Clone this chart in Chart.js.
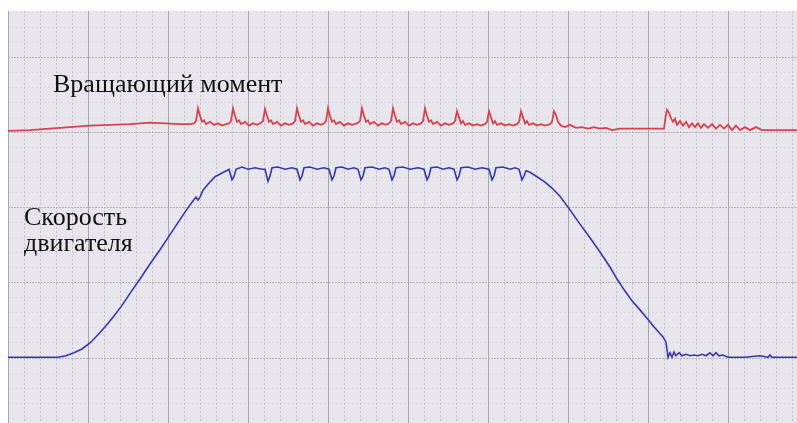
<!DOCTYPE html>
<html>
<head>
<meta charset="utf-8">
<script src="https://cdn.jsdelivr.net/npm/chart.js@4"></script>
<style>
  html, body { margin: 0; padding: 0; background: #fff; }
  #wrap { width: 797px; height: 423px; }
</style>
</head>
<body>
<div id="wrap"><canvas id="traceChart" width="797" height="423"></canvas></div>
<script>
// Drive trace: time in ms (200 ms per division), signals in divisions
const speedMs = [
  0, 125, 145, 165, 185, 205, 225, 245, 265, 285, 305, 330, 355, 380, 405, 430, 447.5, 460, 470, 475, 480, 487.5, 500, 517.5, 535, 550,
  552.5, 560, 565, 570, 585, 600, 617.5, 635,
  642.5, 650, 655, 660, 675, 692.5, 710,
  722.5, 730, 735, 740, 755, 772.5, 790,
  802.5, 810, 815, 820, 835, 850, 865,
  875, 882.5, 887.5, 892.5, 910, 927.5, 942.5,
  952.5, 960, 965, 970, 987.5, 1005, 1025,
  1040, 1047.5, 1052.5, 1057.5, 1072.5, 1087.5, 1102.5,
  1115, 1122.5, 1127.5, 1132.5, 1150, 1167.5, 1185,
  1202.5, 1210, 1215, 1220, 1237.5, 1255, 1267.5,
  1277.5, 1285, 1290, 1295,
  1305, 1322.5, 1342.5, 1360, 1380, 1405, 1430, 1455, 1480, 1505, 1522.5, 1542.5, 1560, 1580, 1597.5, 1617.5, 1637.5, 1645, 1647.5, 1650,
  1655, 1660, 1665, 1670, 1677.5, 1685, 1695, 1705, 1715, 1725, 1735, 1745, 1755, 1762.5, 1770, 1777.5, 1787.5, 1800, 1842.5, 1880, 1900, 1905, 1910, 1972.5
];
const speedDiv = [
  0.01, 0.01, 0.03, 0.07, 0.12, 0.20, 0.31, 0.43, 0.56, 0.70, 0.86, 1.05, 1.25, 1.44, 1.64, 1.84, 1.98, 2.07, 2.14, 2.10, 2.14, 2.23, 2.31, 2.41, 2.46, 2.50,
  2.51, 2.37, 2.41, 2.51, 2.54, 2.51, 2.53, 2.51,
  2.51, 2.35, 2.42, 2.53, 2.54, 2.51, 2.53,
  2.51, 2.37, 2.42, 2.53, 2.54, 2.51, 2.53,
  2.51, 2.37, 2.42, 2.53, 2.54, 2.51, 2.53,
  2.51, 2.37, 2.42, 2.53, 2.54, 2.51, 2.53,
  2.51, 2.37, 2.42, 2.53, 2.54, 2.51, 2.53,
  2.51, 2.37, 2.42, 2.53, 2.54, 2.51, 2.53,
  2.51, 2.37, 2.42, 2.53, 2.54, 2.51, 2.53,
  2.51, 2.37, 2.42, 2.53, 2.54, 2.51, 2.53,
  2.51, 2.37, 2.42, 2.49,
  2.47, 2.41, 2.34, 2.26, 2.15, 1.97, 1.78, 1.60, 1.41, 1.21, 1.05, 0.89, 0.76, 0.64, 0.53, 0.40, 0.28, 0.21, 0.11, 0.01,
  0.07, 0.01, 0.08, 0.03, 0.07, 0.03, 0.05, 0.03, 0.04, 0.03, 0.05, 0.03, 0.07, 0.03, 0.07, 0.03, 0.04, 0.01, 0.01, 0.03, 0.01, 0.04, 0.01, 0.01
];

const torqueMs = [
  0, 55, 105, 155, 205, 255, 305, 355, 392.5, 430, 455,
  465, 470, 475, 480, 485, 490, 495, 505, 515, 525, 535, 545,
  552.5, 557.5, 562.5, 567.5, 572.5, 577.5, 582.5, 592.5, 602.5, 612.5, 622.5, 630,
  637.5, 642.5, 647.5, 652.5, 657.5, 662.5, 672.5, 682.5, 692.5, 702.5, 712.5,
  717.5, 722.5, 727.5, 732.5, 737.5, 742.5, 752.5, 762.5, 772.5, 782.5, 790,
  795, 800, 805, 810, 815, 820, 830, 840, 850, 860, 872.5,
  880, 885, 890, 895, 900, 905, 915, 925, 935, 945, 952.5,
  957.5, 962.5, 967.5, 972.5, 977.5, 982.5, 992.5, 1002.5, 1012.5, 1022.5, 1032.5,
  1037.5, 1042.5, 1047.5, 1052.5, 1057.5, 1062.5, 1072.5, 1082.5, 1092.5, 1102.5, 1112.5,
  1117.5, 1122.5, 1127.5, 1132.5, 1137.5, 1142.5, 1152.5, 1162.5, 1172.5, 1182.5, 1192.5,
  1197.5, 1202.5, 1207.5, 1212.5, 1217.5, 1222.5, 1232.5, 1242.5, 1252.5, 1262.5, 1272.5,
  1277.5, 1282.5, 1287.5, 1292.5, 1297.5, 1302.5, 1312.5, 1322.5, 1332.5, 1342.5, 1355,
  1360, 1365, 1370, 1375, 1382.5, 1392.5, 1405, 1420, 1435, 1450, 1465, 1480, 1495, 1510, 1530, 1580, 1640,
  1645, 1647.5, 1652.5, 1657.5, 1662.5, 1667.5, 1672.5, 1680, 1687.5, 1695, 1702.5, 1710, 1717.5, 1725, 1732.5, 1740,
  1750, 1760, 1770, 1780, 1790, 1800, 1810, 1820, 1830, 1842.5, 1855, 1870, 1885, 1905, 1972.5
];
const torqueDiv = [
  3.02, 3.03, 3.05, 3.07, 3.09, 3.10, 3.11, 3.13, 3.12, 3.11, 3.11,
  3.12, 3.15, 3.32, 3.22, 3.14, 3.16, 3.11, 3.14, 3.10, 3.12, 3.09, 3.11,
  3.12, 3.15, 3.32, 3.22, 3.14, 3.16, 3.11, 3.14, 3.09, 3.12, 3.10, 3.12,
  3.15, 3.31, 3.22, 3.14, 3.16, 3.11, 3.14, 3.09, 3.12, 3.10, 3.12,
  3.15, 3.32, 3.22, 3.14, 3.16, 3.11, 3.14, 3.09, 3.12, 3.10, 3.12,
  3.15, 3.32, 3.22, 3.14, 3.16, 3.11, 3.14, 3.09, 3.12, 3.10, 3.12,
  3.15, 3.32, 3.22, 3.14, 3.16, 3.11, 3.14, 3.09, 3.12, 3.10, 3.12,
  3.15, 3.32, 3.22, 3.14, 3.16, 3.11, 3.14, 3.09, 3.12, 3.10, 3.12,
  3.15, 3.32, 3.22, 3.14, 3.16, 3.11, 3.14, 3.09, 3.12, 3.10, 3.12,
  3.15, 3.28, 3.20, 3.12, 3.15, 3.10, 3.12, 3.09, 3.11, 3.09, 3.11,
  3.14, 3.28, 3.20, 3.12, 3.15, 3.10, 3.12, 3.09, 3.11, 3.09, 3.11,
  3.14, 3.28, 3.20, 3.12, 3.15, 3.10, 3.12, 3.09, 3.11, 3.09, 3.11,
  3.14, 3.28, 3.23, 3.14, 3.09, 3.07, 3.10, 3.06, 3.07, 3.05, 3.07, 3.05, 3.06, 3.03, 3.05, 3.05, 3.05,
  3.24, 3.30, 3.26, 3.19, 3.14, 3.18, 3.10, 3.15, 3.09, 3.14, 3.07, 3.12, 3.07, 3.12, 3.06, 3.11,
  3.06, 3.11, 3.05, 3.10, 3.05, 3.10, 3.03, 3.09, 3.03, 3.07, 3.03, 3.07, 3.03, 3.03, 3.03
];

const torqueCaption = 'Вращающий момент';
const speedCaption = ['Скорость', 'двигателя'];

// fixed tick positions so grid lines land on whole divisions
function tickEvery(step, from, to) {
  return function (scale) {
    const ticks = [];
    for (let v = from; v <= to + 1e-6; v += step) {
      ticks.push({ value: Math.round(v * 1000) / 1000 });
    }
    scale.ticks = ticks;
  };
}

function gridAxis(axis, min, max, step, from, to, color, dash) {
  return {
    type: 'linear',
    axis: axis,
    position: axis === 'x' ? 'bottom' : 'left',
    min: min,
    max: max,
    afterBuildTicks: tickEvery(step, from, to),
    ticks: { display: false },
    grid: { color: color, lineWidth: 1, drawTicks: false },
    border: { display: false, dash: dash }
  };
}

const screenBg = {
  id: 'screenBg',
  beforeDraw(chart) {
    const { ctx, chartArea } = chart;
    ctx.save();
    ctx.fillStyle = '#e8e6ec';
    ctx.fillRect(chartArea.left, chartArea.top, chartArea.right - chartArea.left, chartArea.bottom - chartArea.top);
    ctx.restore();
  }
};

const captions = {
  id: 'captions',
  afterDatasetsDraw(chart) {
    const ctx = chart.ctx;
    ctx.save();
    ctx.fillStyle = '#111';
    ctx.font = '26px "Liberation Serif"';
    ctx.textBaseline = 'alphabetic';
    ctx.fillText(torqueCaption, 53, 92);
    ctx.fillText(speedCaption[0], 24, 225);
    ctx.fillText(speedCaption[1], 24, 251);
    ctx.restore();
  }
};

const X_MAX = 1972.5;
const Y_MIN = -0.864, Y_MAX = 4.614;

new Chart(document.getElementById('traceChart'), {
  type: 'line',
  data: {
    datasets: [
      {
        label: torqueCaption,
        data: torqueMs.map((t, i) => ({ x: t, y: torqueDiv[i] })),
        borderColor: '#d6434d',
        borderWidth: 1.8,
        pointRadius: 0,
        tension: 0
      },
      {
        label: speedCaption.join(' '),
        data: speedMs.map((t, i) => ({ x: t, y: speedDiv[i] })),
        borderColor: '#3438ad',
        borderWidth: 1.6,
        pointRadius: 0,
        tension: 0
      }
    ]
  },
  options: {
    responsive: false,
    animation: false,
    devicePixelRatio: 1,
    layout: { padding: { left: 8, top: 11, right: 0, bottom: 0 } },
    plugins: { legend: { display: false }, tooltip: { enabled: false } },
    scales: {
      x: gridAxis('x', 0, X_MAX, 40, 0, 1960, '#c2c1c7', [2, 2]),
      xMajor: gridAxis('x', 0, X_MAX, 200, 0, 1800, '#a6a5ab', []),
      y: gridAxis('y', Y_MIN, Y_MAX, 0.2, -0.8, 4.6, 'rgba(150,148,158,0.12)', [2, 2]),
      yMajor: gridAxis('y', Y_MIN, Y_MAX, 1, 0, 4, '#b3b2b8', [2, 1])
    }
  },
  plugins: [screenBg, captions]
});
</script>
</body>
</html>
